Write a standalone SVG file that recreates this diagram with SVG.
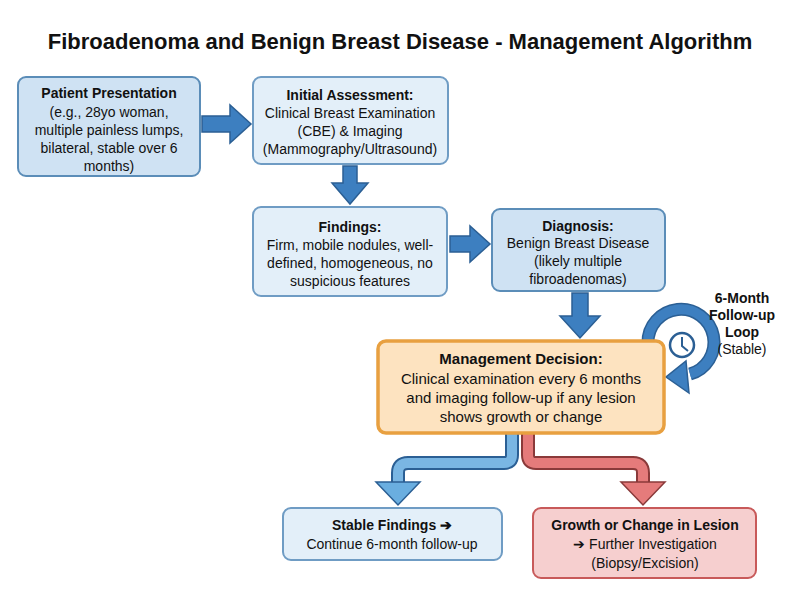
<svg xmlns="http://www.w3.org/2000/svg" width="800" height="600" viewBox="0 0 800 600">
<defs><style>
text{font-family:"Liberation Sans",Arial,sans-serif;fill:#111;text-anchor:middle}
.t{font-size:22px;font-weight:bold}
.b{font-size:14px;font-weight:bold}
.n{font-size:14px}
.m{font-size:15px}
.mb{font-size:15px;font-weight:bold}
.blue{fill:#cfe2f3;stroke:#5b8db8;stroke-width:2}
.lblue{fill:#e3eff9;stroke:#6f9cc4;stroke-width:2}
.arr{fill:#3d7fc0;stroke:#2b5f94;stroke-width:1.5}
</style></defs>
<rect width="800" height="600" fill="#fff"/>
<text class="t" x="400" y="49">Fibroadenoma and Benign Breast Disease - Management Algorithm</text>
<g id="connectors">
<polygon class="arr" points="202,116 230,116 230,105 251,124 230,143 230,132 202,132"/>
<polygon class="arr" points="343,166 357,166 357,183 368,183 350,204 332,183 343,183"/>
<polygon class="arr" points="450,236 470,236 470,226 490,244 470,262 470,252 450,252"/>
<polygon class="arr" points="572,293 588,293 588,316 600,316 580,338 560,316 572,316"/>
<path d="M512,434 V455 Q512,463 504,463 H408 Q398,463 398,473 V482" fill="none" stroke="#2b5f94" stroke-width="14"/>
<path d="M512,434 V455 Q512,463 504,463 H408 Q398,463 398,473 V484" fill="none" stroke="#7ab6e3" stroke-width="10"/>
<polygon points="376,482 420,482 398,505" fill="#6aaee0" stroke="#2b5f94" stroke-width="1.5"/>
<path d="M528,434 V455 Q528,463 536,463 H633 Q643,463 643,473 V482" fill="none" stroke="#8a3a3a" stroke-width="14"/>
<path d="M528,434 V455 Q528,463 536,463 H633 Q643,463 643,473 V484" fill="none" stroke="#e57b7b" stroke-width="10"/>
<polygon points="621,482 665,482 643,505" fill="#e57b7b" stroke="#8a3a3a" stroke-width="1.5"/>
<path d="M648,343 A33,33 0 1 1 690,374" fill="none" stroke="#2b5f94" stroke-width="13"/>
<path d="M648,343 A33,33 0 1 1 690,374" fill="none" stroke="#3d7fc0" stroke-width="10"/>
<polygon points="686,361 689,393 666,377" fill="#3d7fc0" stroke="#2b5f94" stroke-width="1.5"/>
<circle cx="682" cy="345" r="12" fill="#fff" stroke="#2b5f94" stroke-width="2.5"/>
<path d="M682,337 V346 L688,351" fill="none" stroke="#2b5f94" stroke-width="2"/>
</g>
<g id="n1"><rect class="blue" x="18" y="77" width="182" height="99" rx="8"/>
<text class="b" x="109" y="98">Patient Presentation</text>
<text class="n" x="109" y="117">(e.g., 28yo woman,</text>
<text class="n" x="109" y="135">multiple painless lumps,</text>
<text class="n" x="109" y="153">bilateral, stable over 6</text>
<text class="n" x="109" y="171">months)</text></g>
<g id="n2"><rect class="lblue" x="253" y="77" width="195" height="87" rx="8"/>
<text class="b" x="350" y="100">Initial Assessment:</text>
<text class="n" x="350" y="118">Clinical Breast Examination</text>
<text class="n" x="350" y="136">(CBE) &amp; Imaging</text>
<text class="n" x="350" y="154">(Mammography/Ultrasound)</text></g>
<g id="n3"><rect class="lblue" x="253" y="207" width="194" height="89" rx="8"/>
<text class="b" x="350" y="232">Findings:</text>
<text class="n" x="350" y="250">Firm, mobile nodules, well-</text>
<text class="n" x="350" y="268">defined, homogeneous, no</text>
<text class="n" x="350" y="286">suspicious features</text></g>
<g id="n4"><rect class="blue" x="492" y="209" width="173" height="82" rx="8"/>
<text class="b" x="578" y="231">Diagnosis:</text>
<text class="n" x="578" y="248">Benign Breast Disease</text>
<text class="n" x="578" y="266">(likely multiple</text>
<text class="n" x="578" y="284">fibroadenomas)</text></g>
<g id="n5"><rect x="378" y="341" width="286" height="92" rx="8" fill="#fde3c0" stroke="#e8a040" stroke-width="3.5"/>
<text class="mb" x="521" y="364">Management Decision:</text>
<text class="m" x="521" y="384">Clinical examination every 6 months</text>
<text class="m" x="521" y="403">and imaging follow-up if any lesion</text>
<text class="m" x="521" y="422">shows growth or change</text></g>
<g id="loop">
<text class="b" x="742" y="303">6-Month</text>
<text class="b" x="742" y="320">Follow-up</text>
<text class="b" x="742" y="337">Loop</text>
<text class="n" x="742" y="354">(Stable)</text></g>
<g id="n6"><rect class="lblue" x="283" y="508" width="219" height="52" rx="8"/>
<text class="b" x="392" y="530">Stable Findings ➔</text>
<text class="n" x="392" y="549">Continue 6-month follow-up</text></g>
<g id="n7"><rect x="533" y="508" width="223" height="70" rx="8" fill="#f6cfcf" stroke="#c85a5a" stroke-width="2"/>
<text class="b" x="645" y="530">Growth or Change in Lesion</text>
<text class="n" x="645" y="549">➔ Further Investigation</text>
<text class="n" x="645" y="568">(Biopsy/Excision)</text></g>
</svg>
